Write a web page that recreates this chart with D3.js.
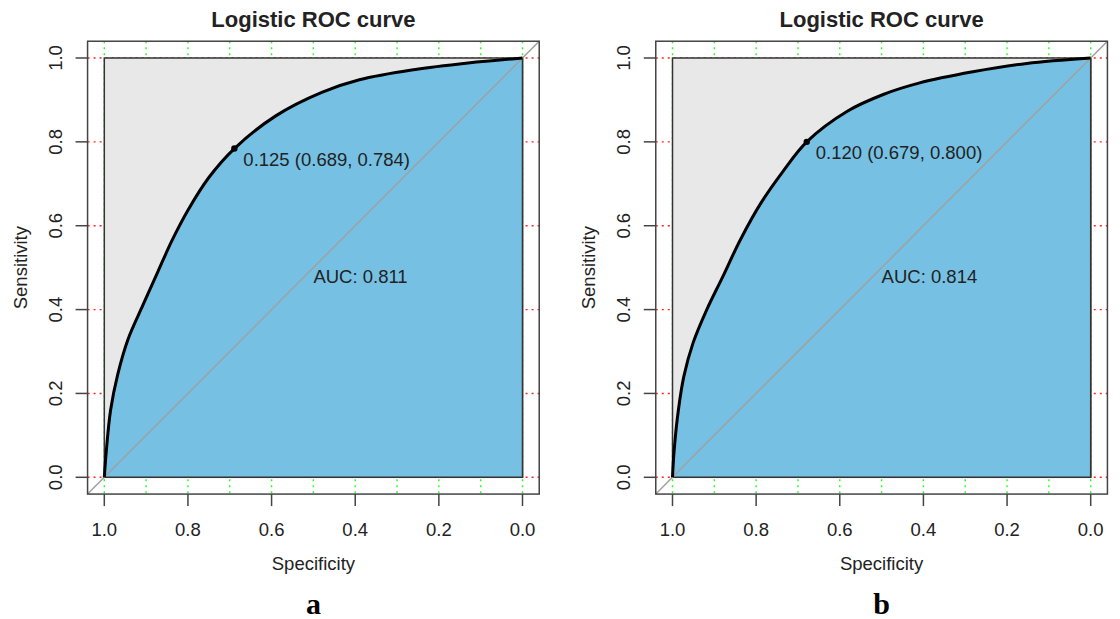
<!DOCTYPE html>
<meta charset="utf-8">
<script src="https://d3js.org/d3.v7.min.js"></script>
<style>
  body { margin: 0; background: #fff; }
  text { font-family: "Liberation Sans", Arial, sans-serif; fill: #222; }
</style>
<svg id="chart" width="1120" height="619"></svg>
<script>
// ROC curves (specificity, sensitivity)
var specA = [1, 0.995, 0.985, 0.968, 0.943, 0.908, 0.872, 0.838, 0.80, 0.75, 0.689, 0.59, 0.48, 0.39, 0.26, 0.13, 0];
var sensA = [0, 0.065, 0.16, 0.245, 0.33, 0.41, 0.49, 0.565, 0.637, 0.715, 0.784, 0.862, 0.918, 0.948, 0.972, 0.988, 1];
var specB = [1, 0.996, 0.986, 0.973, 0.951, 0.918, 0.880, 0.838, 0.788, 0.737, 0.679, 0.582, 0.496, 0.411, 0.282, 0.153, 0];
var sensB = [0, 0.065, 0.16, 0.24, 0.32, 0.40, 0.478, 0.566, 0.655, 0.728, 0.800, 0.873, 0.913, 0.940, 0.967, 0.987, 1];

// best threshold points and AUC
var thrA = { t: "0.125", spec: 0.689, sens: 0.784 };
var thrB = { t: "0.120", spec: 0.679, sens: 0.800 };
var aucA = "0.811";
var aucB = "0.814";

var ticks = [1.0, 0.8, 0.6, 0.4, 0.2, 0.0];
var gridX = [0, 0.1, 0.2, 0.3, 0.4, 0.5, 0.6, 0.7, 0.8, 0.9, 1.0];
var gridY = [0, 0.2, 0.4, 0.6, 0.8, 1.0];

var svg = d3.select("#chart");

function drawPanel(left, spec, sens, thr, auc, letter) {
    var x = d3.scaleLinear().domain([1, 0]).range([left, left + 418.2]);
    var y = d3.scaleLinear().domain([0, 1]).range([477.3, 58]);
    var g = svg.append("g");
    var bx0 = x(1.04), bx1 = x(-0.04), by0 = y(1.04), by1 = y(-0.04);
    var cx = (bx0 + bx1) / 2;

    // grid
    g.selectAll(".gx").data(gridX).enter().append("line")
        .attr("x1", d => x(d)).attr("x2", d => x(d))
        .attr("y1", by0).attr("y2", by1)
        .attr("stroke", "#22ff22").attr("stroke-width", 1.4).attr("stroke-dasharray", "2,4");
    g.selectAll(".gy").data(gridY).enter().append("line")
        .attr("y1", d => y(d)).attr("y2", d => y(d))
        .attr("x1", bx0).attr("x2", bx1)
        .attr("stroke", "#ff2222").attr("stroke-width", 1.4).attr("stroke-dasharray", "2,4");

    // max auc polygon
    g.append("rect")
        .attr("x", x(1)).attr("y", y(1))
        .attr("width", x(0) - x(1)).attr("height", y(0) - y(1))
        .attr("fill", "#e8e8e8").attr("stroke", "#333").attr("stroke-width", 1.5);

    var pts = spec.map((s, i) => [s, sens[i]]);
    var curve = d3.curveCatmullRom.alpha(0.5);
    var area = d3.area().x(d => x(d[0])).y0(y(0)).y1(d => y(d[1])).curve(curve);
    g.append("path").attr("d", area(pts)).attr("fill", "#76c1e3");

    // inner frame again on top of blue
    g.append("path")
        .attr("d", "M" + x(1) + "," + y(0) + "H" + x(0) + "V" + y(1))
        .attr("fill", "none").attr("stroke", "#333").attr("stroke-width", 1.5);

    // diagonal
    g.append("line")
        .attr("x1", x(1.04)).attr("y1", y(-0.04))
        .attr("x2", x(-0.04)).attr("y2", y(1.04))
        .attr("stroke", "#a0a0a0").attr("stroke-width", 1.5);

    // roc curve
    var line = d3.line().x(d => x(d[0])).y(d => y(d[1])).curve(curve);
    g.append("path").attr("d", line(pts))
        .attr("fill", "none").attr("stroke", "#000").attr("stroke-width", 3);

    // threshold point
    g.append("circle").attr("cx", x(thr.spec)).attr("cy", y(thr.sens)).attr("r", 3.2).attr("fill", "#000");
    g.append("text").attr("x", x(thr.spec) + 9).attr("y", y(thr.sens) + 17)
        .attr("font-size", 18.5)
        .text(thr.t + " (" + thr.spec.toFixed(3) + ", " + thr.sens.toFixed(3) + ")");

    g.append("text").attr("x", x(0.5)).attr("y", y(0.5) + 15.5)
        .attr("font-size", 18.5).text("AUC: " + auc);

    // outer box
    g.append("rect").attr("x", bx0).attr("y", by0)
        .attr("width", bx1 - bx0).attr("height", by1 - by0)
        .attr("fill", "none").attr("stroke", "#444").attr("stroke-width", 1.5);

    // x axis
    g.selectAll(".tx").data(ticks).enter().append("line")
        .attr("x1", d => x(d)).attr("x2", d => x(d))
        .attr("y1", by1).attr("y2", by1 + 12)
        .attr("stroke", "#444").attr("stroke-width", 1.5);
    g.selectAll(".lx").data(ticks).enter().append("text")
        .attr("x", d => x(d)).attr("y", 536)
        .attr("text-anchor", "middle").attr("font-size", 18.5)
        .text(d => d.toFixed(1));

    // y axis
    g.selectAll(".ty").data(ticks).enter().append("line")
        .attr("y1", d => y(d)).attr("y2", d => y(d))
        .attr("x1", bx0).attr("x2", bx0 - 12)
        .attr("stroke", "#444").attr("stroke-width", 1.5);
    g.selectAll(".ly").data(ticks).enter().append("text")
        .attr("transform", d => "translate(" + (bx0 - 25.5) + "," + y(d) + ") rotate(-90)")
        .attr("text-anchor", "middle").attr("font-size", 18.5)
        .text(d => d.toFixed(1));

    g.append("text")
        .attr("transform", "translate(" + (bx0 - 61) + "," + y(0.5) + ") rotate(-90)")
        .attr("text-anchor", "middle").attr("font-size", 18.5)
        .text("Sensitivity");
    g.append("text").attr("x", cx).attr("y", 570)
        .attr("text-anchor", "middle").attr("font-size", 18.5)
        .text("Specificity");

    g.append("text").attr("x", cx).attr("y", 27)
        .attr("text-anchor", "middle").attr("font-size", 22).attr("font-weight", "bold")
        .text("Logistic ROC curve");

    g.append("text").attr("x", cx).attr("y", 614)
        .attr("text-anchor", "middle").attr("font-size", 30).attr("font-weight", "bold")
        .style("font-family", "'Liberation Serif', 'DejaVu Serif', serif").style("fill", "#000")
        .text(letter);
}

drawPanel(104.3, specA, sensA, thrA, aucA, "a");
drawPanel(672.5, specB, sensB, thrB, aucB, "b");
</script>
